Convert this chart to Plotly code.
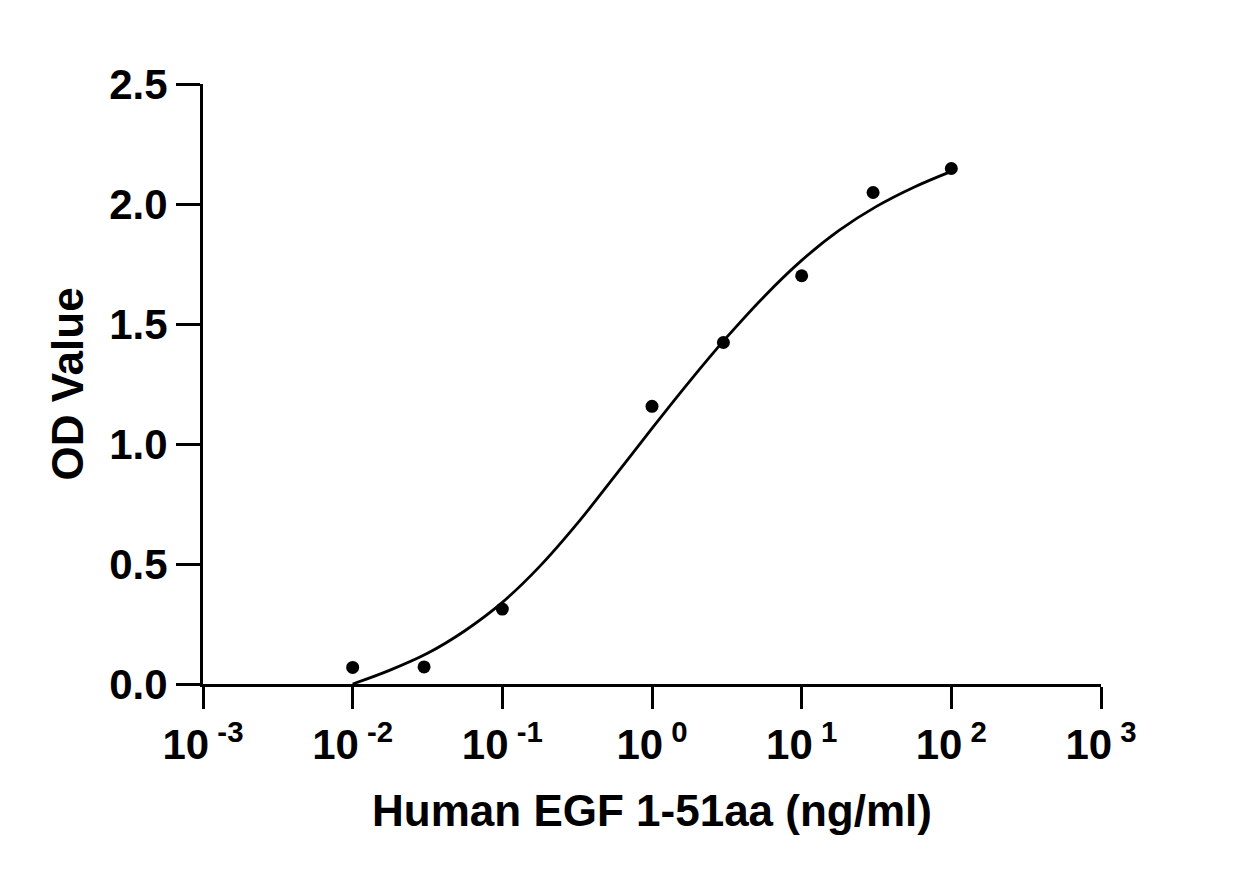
import plotly.graph_objects as go

# Measured points
conc = [0.01, 0.03, 0.1, 1, 3, 10, 30, 100]
od = [0.069, 0.071, 0.312, 1.157, 1.423, 1.701, 2.048, 2.148]

# Fitted curve
curve_x = [0.01, 0.01778, 0.03162, 0.05623, 0.1, 0.1778, 0.3162, 0.5623, 1.0,
           1.778, 3.162, 5.623, 10.0, 17.78, 31.62, 56.23, 100.0]
curve_y = [0.0, 0.058, 0.128, 0.222, 0.340, 0.490, 0.668, 0.865, 1.065,
           1.26, 1.445, 1.615, 1.765, 1.89, 1.99, 2.07, 2.136]

tick_vals = [0.001, 0.01, 0.1, 1, 10, 100, 1000]
tick_text = ["10<sup> -3</sup>", "10<sup> -2</sup>", "10<sup> -1</sup>", "10<sup> 0</sup>",
             "10<sup> 1</sup>", "10<sup> 2</sup>", "10<sup> 3</sup>"]
y_ticks = [0.0, 0.5, 1.0, 1.5, 2.0, 2.5]
y_text = ["0.0", "0.5", "1.0", "1.5", "2.0", "2.5"]

FONT = "Liberation Sans, Arial, sans-serif"

fig = go.Figure()
fig.add_trace(go.Scatter(x=curve_x, y=curve_y, mode="lines",
                         line=dict(color="black", width=2.8, shape="spline", smoothing=1.0),
                         hoverinfo="skip", showlegend=False))
fig.add_trace(go.Scatter(x=conc, y=od, mode="markers",
                         marker=dict(color="black", size=13), showlegend=False))

fig.update_layout(
    width=1245, height=879,
    margin=dict(l=203, r=144, t=84, b=195),
    paper_bgcolor="white", plot_bgcolor="white",
    font=dict(family=FONT, color="black"),
)
fig.update_xaxes(
    type="log", range=[-3, 3],
    tickvals=tick_vals, ticktext=tick_text,
    tickfont=dict(family=FONT, size=42, color="black", weight="bold"),
    showline=True, linecolor="black", linewidth=3,
    ticks="outside", ticklen=22, tickwidth=3, tickcolor="black",
    showgrid=False, zeroline=False,
    title=dict(text="<b>Human EGF 1-51aa (ng/ml)</b>", font=dict(family=FONT, size=44, color="black"),
               standoff=28),
)
fig.update_yaxes(
    range=[0, 2.5],
    tickvals=y_ticks, ticktext=y_text,
    tickfont=dict(family=FONT, size=42, color="black", weight="bold"),
    showline=True, linecolor="black", linewidth=3,
    ticks="outside", ticklen=24, tickwidth=3, tickcolor="black",
    showgrid=False, zeroline=False,
    title=dict(text="<b>OD Value</b>", font=dict(family=FONT, size=44, color="black"),
               standoff=12),
)

fig.write_html("out.html")
